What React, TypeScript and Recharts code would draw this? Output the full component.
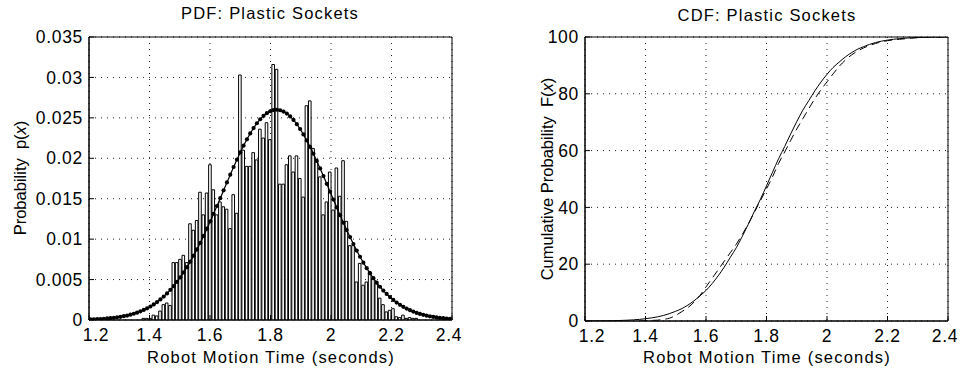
import {
  Bar,
  CartesianGrid,
  ComposedChart,
  Line,
  LineChart,
  ReferenceArea,
  XAxis,
  YAxis,
} from 'recharts'

// histogram bins: centres at BIN_START + i * BIN_WIDTH
const BIN_START = 1.205
const BIN_WIDTH = 0.011

// probability per bin (0 = empty bin)
const HIST = [
  0, 0, 0, 0, 0, 0, 0, 0, 0, 0, 0, 0, 0, 0, 0, 0,
  0.0002, 0.0002, 0.0002, 0.0006, 0.0005, 0.0011, 0.0019, 0.0021, 0.0018, 0.0071,
  0.0071, 0.0075, 0.008, 0.0071, 0.0119, 0.0111, 0.0123, 0.0158, 0.013, 0.0157,
  0.0192, 0.0161, 0.013, 0.0146, 0.014, 0.0137, 0.0113, 0.0155, 0.0132, 0.0303,
  0.021, 0.019, 0.019, 0.0207, 0.0198, 0.0236, 0.0225, 0.0244, 0.0223, 0.0316,
  0.031, 0.0168, 0.0168, 0.0192, 0.0203, 0.0183, 0.0203, 0.0175, 0.0152, 0.0265,
  0.0271, 0.0212, 0.0196, 0.0177, 0.013, 0.0146, 0.0183, 0.0136, 0.0188, 0.0153,
  0.0197, 0.0122, 0.0092, 0.0092, 0.0047, 0.007, 0.0043, 0.0047, 0.006, 0.0052,
  0.0045, 0.0027, 0.0019, 0.001, 0.0012, 0.0014, 0.0004, 0.0003, 0.0006, 0.0002,
  0.0003, 0.0002, 0.0002,
  0, 0, 0, 0, 0, 0, 0, 0, 0, 0,
]

// fitted normal density read at the same bin centres
const FIT_PDF = [
  0.00007, 0.00008, 0.0001, 0.00012, 0.00015, 0.00019, 0.00022, 0.00027, 0.00033, 0.00039,
  0.00047, 0.00055, 0.00066, 0.00077, 0.00091, 0.00107, 0.00124, 0.00145, 0.00167, 0.00193,
  0.00222, 0.00254, 0.0029, 0.00329, 0.00373, 0.0042, 0.00472, 0.00528, 0.00588, 0.00653,
  0.00722, 0.00796, 0.00873, 0.00955, 0.0104, 0.01129, 0.0122, 0.01314, 0.0141, 0.01507,
  0.01604, 0.01701, 0.01797, 0.01892, 0.01983, 0.02072, 0.02156, 0.02235, 0.02307, 0.02374,
  0.02433, 0.02483, 0.02525, 0.02558, 0.02582, 0.02596, 0.026, 0.02594, 0.02578, 0.02553,
  0.02518, 0.02475, 0.02422, 0.02362, 0.02295, 0.02221, 0.02141, 0.02056, 0.01967, 0.01875,
  0.0178, 0.01684, 0.01586, 0.01489, 0.01392, 0.01297, 0.01203, 0.01112, 0.01025, 0.0094,
  0.00859, 0.00782, 0.00709, 0.00641, 0.00577, 0.00517, 0.00462, 0.00411, 0.00364, 0.00322,
  0.00283, 0.00248, 0.00216, 0.00188, 0.00163, 0.00141, 0.00121, 0.00104, 0.00088, 0.00075,
  0.00064, 0.00054, 0.00045, 0.00038, 0.00032, 0.00026, 0.00022, 0.00018, 0.00015,
]

// CDF sampled every 0.02 s from 1.20
const CDF_START = 1.2
const CDF_STEP = 0.02

const FIT_CDF = [
  0.02, 0.03, 0.04, 0.06, 0.09, 0.13, 0.2, 0.29, 0.4, 0.57,
  0.8, 1.1, 1.46, 1.97, 2.62, 3.44, 4.36, 5.59, 7.08, 8.85,
  10.75, 13.14, 15.87, 18.94, 22.36, 25.78, 29.81, 34.09, 38.59, 42.86,
  47.61, 52.39, 57.14, 61.41, 65.91, 70.19, 74.22, 77.64, 81.06, 84.13,
  86.86, 89.25, 91.15, 92.92, 94.41, 95.64, 96.56, 97.38, 98.03, 98.54,
  98.9, 99.2, 99.43, 99.6, 99.71, 99.8, 99.87, 99.91, 99.94, 99.96,
  99.97,
]

const EMP_CDF = [
  null, null, null, null, null, null, null, null, null, 0,
  0.1, 0.2, 0.3, 0.6, 1.0, 2.0, 3.3, 4.7, 6.6, 9.0,
  12.0, 15.0, 18.0, 21.0, 24.0, 27.0, 30.5, 34.2, 38.3, 42.4,
  46.5, 50.8, 55.5, 59.5, 63.6, 67.6, 71.2, 74.8, 78.3, 81.4,
  84.2, 87.0, 89.6, 91.8, 93.6, 95.0, 96.1, 97.0, 97.7, 98.3,
  98.7, 99.0, 99.2, 99.4, 99.6, 99.8, 100, 100, 100, 100,
  100,
]

const X_TICKS = [1.2, 1.4, 1.6, 1.8, 2, 2.2, 2.4]
const PDF_Y_TICKS = [0, 0.005, 0.01, 0.015, 0.02, 0.025, 0.03, 0.035]
const CDF_Y_TICKS = [0, 20, 40, 60, 80, 100]

const pdfData = FIT_PDF.map((fit, i) => ({
  x: Math.round((BIN_START + i * BIN_WIDTH) * 10000) / 10000,
  hist: HIST[i] > 0 ? HIST[i] : null,
  fit,
}))

const cdfData = FIT_CDF.map((fit, i) => ({
  x: Math.round((CDF_START + i * CDF_STEP) * 1000) / 1000,
  fit,
  emp: EMP_CDF[i],
}))

const FONT = '"Liberation Sans", Arial, Helvetica, sans-serif'
const tickStyle = { fill: '#000', fontSize: 17.5 }

const css = `
  .plots text { font-family: ${FONT}; }
  .plots .recharts-cartesian-axis-tick-value { letter-spacing: 0.7px; }
  .lbl { position: absolute; font-family: ${FONT}; font-size: 16.5px; color: #000;
         white-space: nowrap; line-height: 20px; letter-spacing: 1.2px; }
  .ylbl { letter-spacing: 0; transform: translate(-50%, -50%) rotate(-90deg); }
`

function Dot(props: any) {
  const { cx, cy } = props
  if (cx == null || cy == null) return null
  return <circle cx={cx} cy={cy} r={2.1} fill="#000" />
}

// end labels of the x axis sit a little inward, as in the original figure
function XTick(props: any) {
  const { x, y, payload } = props
  const v = payload.value
  const shift = v === X_TICKS[0] ? 7 : v === X_TICKS[X_TICKS.length - 1] ? -3 : 0
  return (
    <text
      className="recharts-cartesian-axis-tick-value"
      x={x + shift}
      y={y}
      dy="0.71em"
      textAnchor="middle"
      fill="#000"
      fontSize={17.5}
    >
      {String(v)}
    </text>
  )
}

// axes with inward ticks, matlab style; frame axes on top / right carry ticks only
function frameAxes(yDomain: number[], yTicks: number[]) {
  return [
    <XAxis
      key="xb"
      dataKey="x"
      type="number"
      domain={[1.2, 2.4]}
      ticks={X_TICKS}
      allowDataOverflow
      interval={0}
      height={30}
      tick={<XTick />}
      tickLine={{ stroke: '#000' }}
      tickSize={-5}
      tickMargin={14}
      axisLine={{ stroke: '#000' }}
    />,
    <XAxis
      key="xt"
      xAxisId="top"
      orientation="top"
      dataKey="x"
      type="number"
      domain={[1.2, 2.4]}
      ticks={X_TICKS}
      allowDataOverflow
      interval={0}
      height={1}
      tick={false}
      tickLine={{ stroke: '#000' }}
      tickSize={-5}
      axisLine={false}
    />,
    <YAxis
      key="yl"
      type="number"
      domain={yDomain}
      ticks={yTicks}
      allowDataOverflow
      interval={0}
      width={60}
      tick={tickStyle}
      tickLine={{ stroke: '#000' }}
      tickSize={-5}
      tickMargin={11}
      axisLine={{ stroke: '#000' }}
    />,
    <YAxis
      key="yr"
      yAxisId="right"
      orientation="right"
      type="number"
      domain={yDomain}
      ticks={yTicks}
      allowDataOverflow
      interval={0}
      width={1}
      tick={false}
      tickLine={{ stroke: '#000' }}
      tickSize={-5}
      axisLine={false}
    />,
  ]
}

export default function App() {
  return (
    <div
      className="plots"
      style={{ position: 'absolute', left: 0, top: 0, width: 966, height: 377, background: '#fff' }}
    >
      <style>{css}</style>

      <div style={{ position: 'absolute', left: 0, top: 0 }}>
        <ComposedChart
          width={470}
          height={377}
          data={pdfData}
          margin={{ top: 36, right: 17, bottom: 27, left: 29 }}
        >
          <CartesianGrid stroke="#222" strokeDasharray="1 5" />
          {frameAxes([0, 0.035], PDF_Y_TICKS)}
          <Bar
            dataKey="hist"
            barSize={2.6}
            fill="#fff"
            stroke="#000"
            strokeWidth={1}
            isAnimationActive={false}
          />
          <Line
            dataKey="fit"
            type="linear"
            stroke="#000"
            strokeWidth={1.2}
            dot={<Dot />}
            activeDot={false}
            isAnimationActive={false}
          />
          <ReferenceArea
            x1={1.2}
            x2={2.4}
            y1={0}
            y2={0.035}
            fill="none"
            fillOpacity={0}
            stroke="#000"
            strokeOpacity={1}
            strokeWidth={1}
          />
        </ComposedChart>
      </div>

      <div style={{ position: 'absolute', left: 480, top: 0 }}>
        <LineChart
          width={486}
          height={377}
          data={cdfData}
          margin={{ top: 36, right: 17, bottom: 26, left: 45 }}
        >
          <CartesianGrid stroke="#222" strokeDasharray="1 5" />
          {frameAxes([0, 100], CDF_Y_TICKS)}
          <Line
            dataKey="fit"
            type="monotone"
            stroke="#000"
            strokeWidth={1}
            dot={false}
            activeDot={false}
            isAnimationActive={false}
          />
          <Line
            dataKey="emp"
            type="monotone"
            stroke="#000"
            strokeWidth={1}
            strokeDasharray="8 5"
            dot={false}
            activeDot={false}
            isAnimationActive={false}
          />
          <ReferenceArea
            x1={1.2}
            x2={2.4}
            y1={0}
            y2={100}
            fill="none"
            fillOpacity={0}
            stroke="#000"
            strokeOpacity={1}
            strokeWidth={1}
          />
        </LineChart>
      </div>

      <div className="lbl" style={{ left: 270, top: 3, transform: 'translateX(-50%)' }}>
        PDF: Plastic Sockets
      </div>
      <div className="lbl" style={{ left: 767, top: 5, transform: 'translateX(-50%)' }}>
        CDF: Plastic Sockets
      </div>
      <div className="lbl" style={{ left: 271, top: 347, transform: 'translateX(-50%)' }}>
        Robot Motion Time (seconds)
      </div>
      <div className="lbl" style={{ left: 767, top: 347, transform: 'translateX(-50%)' }}>
        Robot Motion Time (seconds)
      </div>
      <div className="lbl ylbl" style={{ left: 20, top: 178 }}>
        Probability&nbsp; p(<i>x</i>)
      </div>
      <div className="lbl ylbl" style={{ left: 547, top: 179 }}>
        Cumulative Probability&nbsp; F(<i>x</i>)
      </div>
    </div>
  )
}
